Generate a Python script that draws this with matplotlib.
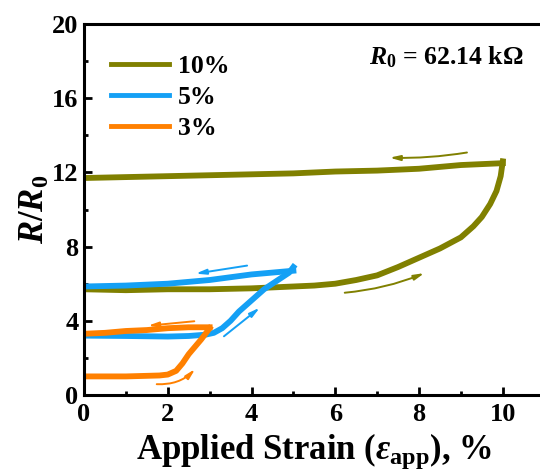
import matplotlib
matplotlib.use('Agg')
import matplotlib.pyplot as plt

plt.rcParams['font.family'] = ['Liberation Serif', 'DejaVu Serif']
plt.rcParams['font.weight'] = 'bold'
plt.rcParams['mathtext.fontset'] = 'custom'
plt.rcParams['mathtext.rm'] = 'Liberation Serif:bold'
plt.rcParams['mathtext.it'] = 'Liberation Serif:italic:bold'
plt.rcParams['mathtext.bf'] = 'Liberation Serif:bold'

# 10% strain cycle (load then unload)
s10_load_x = [0, 1, 2, 3, 4, 4.5, 5, 5.5, 6, 6.5, 7, 7.5, 8, 8.5, 9, 9.3, 9.5, 9.7, 9.85, 9.95, 10.0]
s10_load_y = [5.7, 5.65, 5.7, 5.7, 5.75, 5.8, 5.85, 5.9, 6.0, 6.2, 6.45, 6.9, 7.4, 7.9, 8.5, 9.1, 9.6, 10.3, 11.0, 11.8, 12.6]
s10_unload_x = [10.0, 9.5, 9, 8, 7, 6, 5, 4, 3, 2, 1, 0]
s10_unload_y = [12.5, 12.45, 12.4, 12.2, 12.1, 12.05, 11.95, 11.9, 11.85, 11.8, 11.75, 11.7]

# 5% strain cycle
s5_load_x = [0, 1, 2, 2.5, 2.9, 3.1, 3.3, 3.5, 3.7, 3.9, 4.1, 4.3, 4.5, 4.7, 4.9, 5.0]
s5_load_y = [3.2, 3.18, 3.15, 3.18, 3.25, 3.35, 3.6, 4.0, 4.5, 4.9, 5.3, 5.7, 6.0, 6.3, 6.6, 6.9]
s5_unload_x = [5.0, 4.5, 4, 3.5, 3, 2.5, 2, 1, 0]
s5_unload_y = [6.7, 6.6, 6.5, 6.35, 6.2, 6.1, 6.0, 5.9, 5.85]

# 3% strain cycle
s3_load_x = [0, 1, 1.8, 2.0, 2.2, 2.35, 2.5, 2.65, 2.8, 2.9, 3.0]
s3_load_y = [1.0, 1.0, 1.05, 1.1, 1.3, 1.7, 2.2, 2.6, 3.0, 3.3, 3.6]
s3_unload_x = [3.0, 2.5, 2.0, 1.5, 1.0, 0.5, 0]
s3_unload_y = [3.65, 3.65, 3.6, 3.5, 3.45, 3.35, 3.3]

labels = ['10%', '5%', '3%']
colors = ['#808000', '#14A0F5', '#FF8000']

fig = plt.figure(figsize=(5.4, 4.73), dpi=100)
ax = fig.add_axes([0.1556, 0.165, 0.853, 0.784])

lw = 4.2
ax.plot(s10_load_x, s10_load_y, color=colors[0], lw=lw, label=labels[0])
ax.plot(s10_unload_x, s10_unload_y, color=colors[0], lw=lw)
ax.plot(s5_load_x, s5_load_y, color=colors[1], lw=lw, label=labels[1])
ax.plot(s5_unload_x, s5_unload_y, color=colors[1], lw=lw)
ax.plot(s3_load_x, s3_load_y, color=colors[2], lw=lw, label=labels[2])
ax.plot(s3_unload_x, s3_unload_y, color=colors[2], lw=lw)

# direction arrows
arrows = [
    ((9.21, 13.1), (7.23, 12.8), colors[0], -0.05),
    ((6.16, 5.5), (8.19, 6.63), colors[0], 0.08),
    ((3.96, 7.0), (2.6, 6.52), colors[1], 0.0),
    ((3.29, 3.07), (4.25, 4.8), colors[1], 0.0),
    ((2.7, 3.99), (1.46, 3.72), colors[2], 0.0),
    ((1.67, 0.59), (2.7, 1.51), colors[2], 0.25),
]
for start, end, c, rad in arrows:
    ax.annotate('', xy=end, xytext=start,
                arrowprops=dict(arrowstyle='-|>,head_length=0.6,head_width=0.15',
                                color=c, lw=1.4,
                                connectionstyle=f'arc3,rad={rad}'))

ax.text(0.955, 0.91, r'$R_0$ = 62.14 kΩ', transform=ax.transAxes,
        fontsize=18.5, fontweight='bold', ha='right', va='center')

ax.set_xlim(0, 11)
ax.set_ylim(0, 20)
ax.set_xticks([0, 2, 4, 6, 8, 10])
ax.set_xticks([1, 3, 5, 7, 9], minor=True)
ax.set_yticks([0, 4, 8, 12, 16, 20])
ax.set_yticks([2, 6, 10, 14, 18], minor=True)
ax.tick_params(which='both', direction='in', width=2, labelsize=19)
ax.tick_params(which='major', length=6)
ax.tick_params(which='minor', length=3)
ax.tick_params(axis='x', pad=6)
ax.tick_params(axis='y', pad=4)
for lbl in ax.get_xticklabels() + ax.get_yticklabels():
    lbl.set_fontweight('bold')
for sp in ax.spines.values():
    sp.set_linewidth(2.2)
ax.spines['right'].set_visible(False)

ax.set_xlabel(r'Applied Strain ($\varepsilon_{\rm app}$), %', fontsize=25, fontweight='bold', labelpad=4)
ax.set_ylabel(r'$R/R_0$', fontsize=25, fontweight='bold', labelpad=0)

leg = ax.legend(loc='upper left', frameon=False, fontsize=18.5, handlelength=2.25,
                handletextpad=0.35, borderaxespad=0.3, bbox_to_anchor=(0.02, 0.965),
                labelspacing=0.3)
for line in leg.get_lines():
    line.set_linewidth(3.5)

fig.savefig('out.png', dpi=100)
